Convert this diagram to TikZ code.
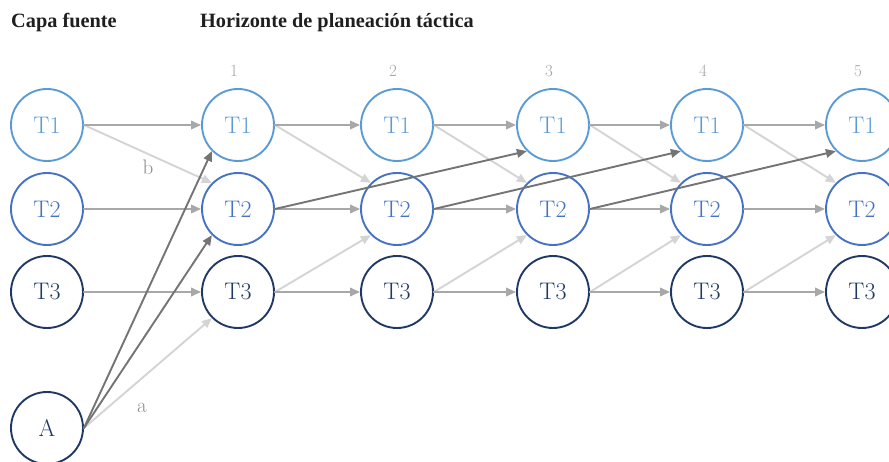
\documentclass[tikz,border=0pt]{standalone}
\usepackage{fontspec}
\newfontfamily\headfont{Liberation Serif}
\usepackage{tikz}
\usetikzlibrary{arrows.meta}
\definecolor{lblue}{HTML}{5B9BD5}
\definecolor{mblue}{HTML}{4472C4}
\definecolor{dblue}{HTML}{203864}
\definecolor{hzgray}{HTML}{A8A8A8}
\definecolor{ltgray}{HTML}{D4D4D4}
\definecolor{dkgray}{HTML}{747474}
\definecolor{txtgray}{HTML}{8C8C8C}
\tikzset{
  state/.style={circle, draw, line width=1.9pt, minimum size=72pt, inner sep=0pt,
    font=\fontsize{24}{27}\selectfont},
  row1/.style={state, draw=lblue, text=lblue},
  row2/.style={state, draw=mblue, text=mblue},
  row3/.style={state, draw=dblue, text=dblue},
  period/.style={text=txtgray!80, font=\fontsize{17}{19}\selectfont},
  heading/.style={anchor=base west, inner sep=0pt, text=black!88,
    font=\headfont\fontsize{20.3}{23}\selectfont\bfseries},
  edgelbl/.style={text=txtgray, font=\fontsize{21}{23}\selectfont},
  flow/.style={line width=1.9pt, -{Triangle[length=10pt,width=8.5pt]}},
  hz/.style={flow, draw=hzgray},
  lt/.style={flow, draw=ltgray},
  dk/.style={flow, draw=dkgray},
  every picture/.style={line cap=round, line join=round}
}

\begin{document}
\begin{tikzpicture}[x=1pt, y=-1pt]
  \useasboundingbox (0,0) rectangle (889,462);

  \node[heading] (hsrc) at (11,28) {Capa fuente};
  \node[heading] (hplan) at (200,28) {Horizonte de planeación táctica};

  % source layer
  \node[row1] (s1) at (47,125) {T1};
  \node[row2] (s2) at (47,209) {T2};
  \node[row3] (s3) at (47,292) {T3};
  \node[row3] (src) at (47,428) {A};

  % planning periods
  \foreach \c/\x in {1/238,2/397,3/553,4/707,5/862}{
    \node[period] (p\c) at (\x-4,71) {\c};
    \node[row1] (k\c-1) at (\x,125) {T1};
    \node[row2] (k\c-2) at (\x,209) {T2};
    \node[row3] (k\c-3) at (\x,292) {T3};
  }

  % light links
  \draw[lt] (s1.east) -- (k1-2.north west);
  \draw[lt] (src.east) -- (k1-3.south west);
  \foreach \c in {1,...,4}{
    \pgfmathtruncatemacro\nxt{\c+1}
    \draw[lt] (k\c-1.east) -- (k\nxt-2.north west);
    \draw[lt] (k\c-3.east) -- (k\nxt-2.south west);
  }

  % same task, next period
  \draw[hz] (s1) -- (k1-1);
  \draw[hz] (s2) -- (k1-2);
  \draw[hz] (s3) -- (k1-3);
  \foreach \c in {1,...,4}{
    \pgfmathtruncatemacro\nxt{\c+1}
    \draw[hz] (k\c-1) -- (k\nxt-1);
    \draw[hz] (k\c-2) -- (k\nxt-2);
    \draw[hz] (k\c-3) -- (k\nxt-3);
  }

  % strong links
  \draw[dk] (src.east) -- (k1-1.south west);
  \draw[dk] (src.east) -- (k1-2.south west);
  \foreach \c in {1,2,3}{
    \pgfmathtruncatemacro\nxt{\c+2}
    \draw[dk] (k\c-2.east) -- (k\nxt-1.south west);
  }

  \node[edgelbl] (lb) at (148,167) {b};
  \node[edgelbl] (la) at (142,408) {a};
\end{tikzpicture}
\end{document}
